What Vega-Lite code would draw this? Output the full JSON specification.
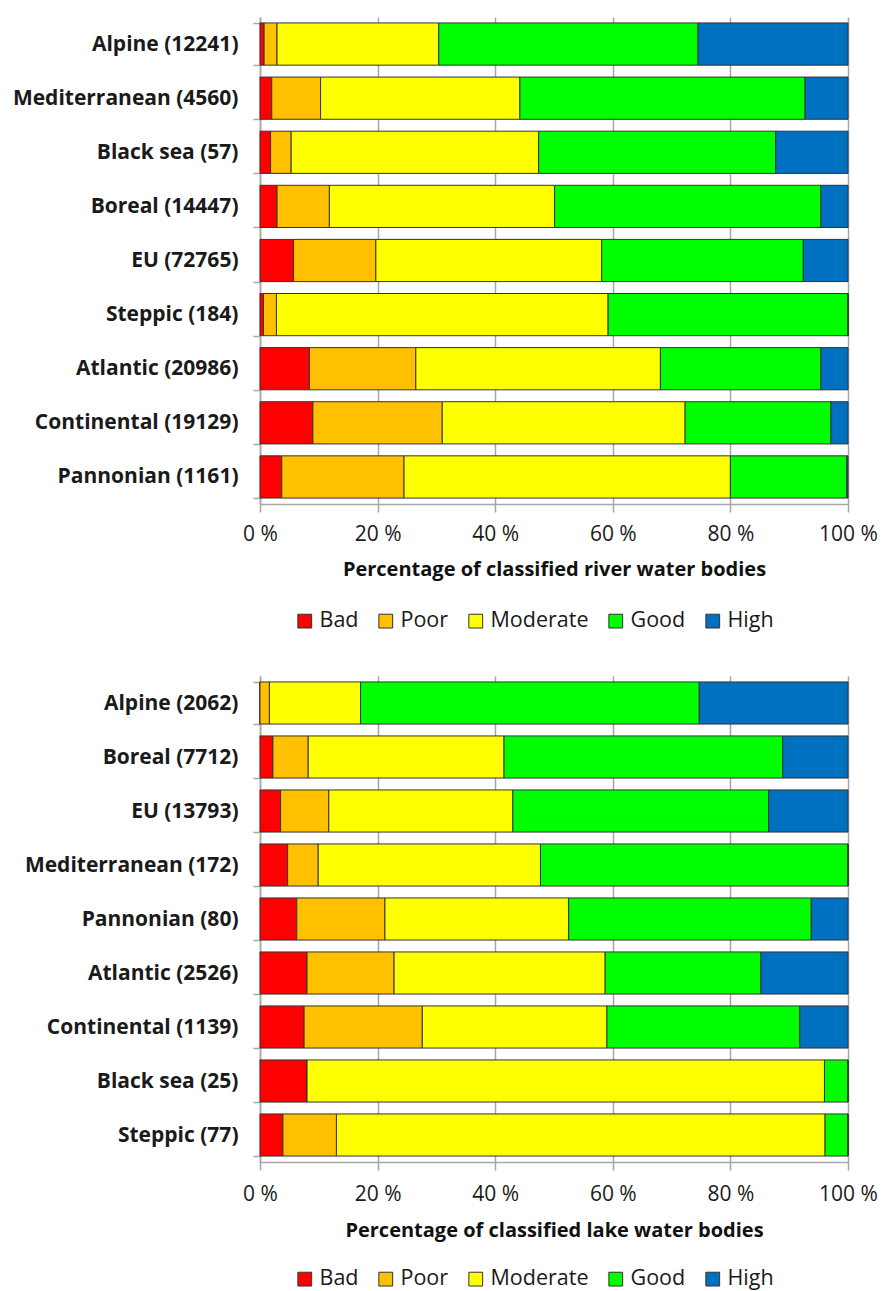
{
  "$schema": "https://vega.github.io/schema/vega-lite/v6.json",
  "background": "white",
  "padding": {"left": 12, "top": 6, "right": 10, "bottom": 0},
  "datasets": {
    "river": [
      {"region": "Alpine (12241)", "status": "Bad", "pct": 0.7},
      {"region": "Alpine (12241)", "status": "Poor", "pct": 2.2},
      {"region": "Alpine (12241)", "status": "Moderate", "pct": 27.5},
      {"region": "Alpine (12241)", "status": "Good", "pct": 44.1},
      {"region": "Alpine (12241)", "status": "High", "pct": 25.5},
      {"region": "Mediterranean (4560)", "status": "Bad", "pct": 2.0},
      {"region": "Mediterranean (4560)", "status": "Poor", "pct": 8.3},
      {"region": "Mediterranean (4560)", "status": "Moderate", "pct": 33.9},
      {"region": "Mediterranean (4560)", "status": "Good", "pct": 48.5},
      {"region": "Mediterranean (4560)", "status": "High", "pct": 7.3},
      {"region": "Black sea (57)", "status": "Bad", "pct": 1.8},
      {"region": "Black sea (57)", "status": "Poor", "pct": 3.5},
      {"region": "Black sea (57)", "status": "Moderate", "pct": 42.1},
      {"region": "Black sea (57)", "status": "Good", "pct": 40.3},
      {"region": "Black sea (57)", "status": "High", "pct": 12.3},
      {"region": "Boreal (14447)", "status": "Bad", "pct": 2.9},
      {"region": "Boreal (14447)", "status": "Poor", "pct": 8.9},
      {"region": "Boreal (14447)", "status": "Moderate", "pct": 38.3},
      {"region": "Boreal (14447)", "status": "Good", "pct": 45.3},
      {"region": "Boreal (14447)", "status": "High", "pct": 4.6},
      {"region": "EU (72765)", "status": "Bad", "pct": 5.7},
      {"region": "EU (72765)", "status": "Poor", "pct": 14.0},
      {"region": "EU (72765)", "status": "Moderate", "pct": 38.4},
      {"region": "EU (72765)", "status": "Good", "pct": 34.3},
      {"region": "EU (72765)", "status": "High", "pct": 7.6},
      {"region": "Steppic (184)", "status": "Bad", "pct": 0.6},
      {"region": "Steppic (184)", "status": "Poor", "pct": 2.2},
      {"region": "Steppic (184)", "status": "Moderate", "pct": 56.4},
      {"region": "Steppic (184)", "status": "Good", "pct": 40.8},
      {"region": "Steppic (184)", "status": "High", "pct": 0},
      {"region": "Atlantic (20986)", "status": "Bad", "pct": 8.4},
      {"region": "Atlantic (20986)", "status": "Poor", "pct": 18.1},
      {"region": "Atlantic (20986)", "status": "Moderate", "pct": 41.6},
      {"region": "Atlantic (20986)", "status": "Good", "pct": 27.3},
      {"region": "Atlantic (20986)", "status": "High", "pct": 4.6},
      {"region": "Continental (19129)", "status": "Bad", "pct": 9.0},
      {"region": "Continental (19129)", "status": "Poor", "pct": 22.0},
      {"region": "Continental (19129)", "status": "Moderate", "pct": 41.3},
      {"region": "Continental (19129)", "status": "Good", "pct": 24.8},
      {"region": "Continental (19129)", "status": "High", "pct": 2.9},
      {"region": "Pannonian (1161)", "status": "Bad", "pct": 3.7},
      {"region": "Pannonian (1161)", "status": "Poor", "pct": 20.8},
      {"region": "Pannonian (1161)", "status": "Moderate", "pct": 55.5},
      {"region": "Pannonian (1161)", "status": "Good", "pct": 19.8},
      {"region": "Pannonian (1161)", "status": "High", "pct": 0.2}
    ],
    "lake": [
      {"region": "Alpine (2062)", "status": "Bad", "pct": 0},
      {"region": "Alpine (2062)", "status": "Poor", "pct": 1.6},
      {"region": "Alpine (2062)", "status": "Moderate", "pct": 15.5},
      {"region": "Alpine (2062)", "status": "Good", "pct": 57.6},
      {"region": "Alpine (2062)", "status": "High", "pct": 25.3},
      {"region": "Boreal (7712)", "status": "Bad", "pct": 2.2},
      {"region": "Boreal (7712)", "status": "Poor", "pct": 6.0},
      {"region": "Boreal (7712)", "status": "Moderate", "pct": 33.3},
      {"region": "Boreal (7712)", "status": "Good", "pct": 47.4},
      {"region": "Boreal (7712)", "status": "High", "pct": 11.1},
      {"region": "EU (13793)", "status": "Bad", "pct": 3.5},
      {"region": "EU (13793)", "status": "Poor", "pct": 8.2},
      {"region": "EU (13793)", "status": "Moderate", "pct": 31.3},
      {"region": "EU (13793)", "status": "Good", "pct": 43.5},
      {"region": "EU (13793)", "status": "High", "pct": 13.5},
      {"region": "Mediterranean (172)", "status": "Bad", "pct": 4.7},
      {"region": "Mediterranean (172)", "status": "Poor", "pct": 5.2},
      {"region": "Mediterranean (172)", "status": "Moderate", "pct": 37.8},
      {"region": "Mediterranean (172)", "status": "Good", "pct": 52.3},
      {"region": "Mediterranean (172)", "status": "High", "pct": 0},
      {"region": "Pannonian (80)", "status": "Bad", "pct": 6.25},
      {"region": "Pannonian (80)", "status": "Poor", "pct": 15.0},
      {"region": "Pannonian (80)", "status": "Moderate", "pct": 31.25},
      {"region": "Pannonian (80)", "status": "Good", "pct": 41.25},
      {"region": "Pannonian (80)", "status": "High", "pct": 6.25},
      {"region": "Atlantic (2526)", "status": "Bad", "pct": 8.0},
      {"region": "Atlantic (2526)", "status": "Poor", "pct": 14.8},
      {"region": "Atlantic (2526)", "status": "Moderate", "pct": 35.9},
      {"region": "Atlantic (2526)", "status": "Good", "pct": 26.5},
      {"region": "Atlantic (2526)", "status": "High", "pct": 14.8},
      {"region": "Continental (1139)", "status": "Bad", "pct": 7.5},
      {"region": "Continental (1139)", "status": "Poor", "pct": 20.1},
      {"region": "Continental (1139)", "status": "Moderate", "pct": 31.4},
      {"region": "Continental (1139)", "status": "Good", "pct": 32.8},
      {"region": "Continental (1139)", "status": "High", "pct": 8.2},
      {"region": "Black sea (25)", "status": "Bad", "pct": 8.0},
      {"region": "Black sea (25)", "status": "Poor", "pct": 0},
      {"region": "Black sea (25)", "status": "Moderate", "pct": 88.0},
      {"region": "Black sea (25)", "status": "Good", "pct": 4.0},
      {"region": "Black sea (25)", "status": "High", "pct": 0},
      {"region": "Steppic (77)", "status": "Bad", "pct": 3.9},
      {"region": "Steppic (77)", "status": "Poor", "pct": 9.1},
      {"region": "Steppic (77)", "status": "Moderate", "pct": 83.1},
      {"region": "Steppic (77)", "status": "Good", "pct": 3.9},
      {"region": "Steppic (77)", "status": "High", "pct": 0}
    ]
  },
  "config": {
    "font": "Open Sans",
    "view": {"stroke": null},
    "axis": {
      "domainColor": "#a6a6a6",
      "domainWidth": 1.5,
      "tickColor": "#a6a6a6",
      "tickWidth": 1.5,
      "gridColor": "#a6a6a6",
      "gridWidth": 1.5,
      "labelColor": "#1a1a1a",
      "titleColor": "#111111",
      "labelFontSize": 21,
      "titleFontSize": 20
    },
    "legend": {
      "orient": "none",
      "direction": "horizontal",
      "title": null,
      "labelFontSize": 21.5,
      "labelColor": "#1a1a1a",
      "symbolType": "square",
      "symbolSize": 190,
      "symbolStrokeColor": "#333333",
      "symbolStrokeWidth": 1,
      "columnPadding": 16,
      "labelOffset": 4
    }
  },
  "spacing": 33,
  "resolve": {"scale": {"y": "independent", "color": "independent"}, "legend": {"color": "independent"}},
  "vconcat": [
    {
      "data": {"name": "river"},
      "transform": [{"calculate": "indexof(['Bad','Poor','Moderate','Good','High'], datum.status)", "as": "rank"}],
      "width": 588,
      "height": 487,
      "mark": {"type": "bar", "stroke": "#333333", "strokeWidth": 1},
      "encoding": {
        "y": {
          "field": "region", "type": "nominal", "sort": null, "title": null,
          "scale": {"paddingInner": 0.22, "paddingOuter": 0.11},
          "axis": {"tickBand": "extent", "labelFontWeight": "bold", "labelFontSize": 21, "tickSize": 7, "labelPadding": 15, "labelLimit": 300}
        },
        "x": {
          "field": "pct", "type": "quantitative", "stack": "zero",
          "scale": {"domain": [0, 100], "nice": false},
          "title": "Percentage of classified river water bodies",
          "axis": {"values": [0, 20, 40, 60, 80, 100], "labelExpr": "datum.value + ' %'", "grid": true, "tickSize": 8, "labelPadding": 11, "titlePadding": 15, "labelFlush": false, "titleFontWeight": "bold"}
        },
        "order": {"field": "rank", "type": "quantitative"},
        "color": {
          "field": "status", "type": "nominal",
          "sort": ["Bad", "Poor", "Moderate", "Good", "High"],
          "scale": {"domain": ["Bad", "Poor", "Moderate", "Good", "High"], "range": ["#ff0000", "#ffc000", "#ffff00", "#00ff00", "#0070c0"]},
          "legend": {"legendX": 34, "legendY": 593}
        }
      }
    },
    {
      "data": {"name": "lake"},
      "transform": [{"calculate": "indexof(['Bad','Poor','Moderate','Good','High'], datum.status)", "as": "rank"}],
      "width": 588,
      "height": 486,
      "mark": {"type": "bar", "stroke": "#333333", "strokeWidth": 1},
      "encoding": {
        "y": {
          "field": "region", "type": "nominal", "sort": null, "title": null,
          "scale": {"paddingInner": 0.22, "paddingOuter": 0.11},
          "axis": {"tickBand": "extent", "labelFontWeight": "bold", "labelFontSize": 21, "tickSize": 7, "labelPadding": 15, "labelLimit": 300}
        },
        "x": {
          "field": "pct", "type": "quantitative", "stack": "zero",
          "scale": {"domain": [0, 100], "nice": false},
          "title": "Percentage of classified lake water bodies",
          "axis": {"values": [0, 20, 40, 60, 80, 100], "labelExpr": "datum.value + ' %'", "grid": true, "tickSize": 8, "labelPadding": 13, "titlePadding": 16, "labelFlush": false, "titleFontWeight": "bold"}
        },
        "order": {"field": "rank", "type": "quantitative"},
        "color": {
          "field": "status", "type": "nominal",
          "sort": ["Bad", "Poor", "Moderate", "Good", "High"],
          "scale": {"domain": ["Bad", "Poor", "Moderate", "Good", "High"], "range": ["#ff0000", "#ffc000", "#ffff00", "#00ff00", "#0070c0"]},
          "legend": {"legendX": 34, "legendY": 592}
        }
      }
    }
  ]
}
